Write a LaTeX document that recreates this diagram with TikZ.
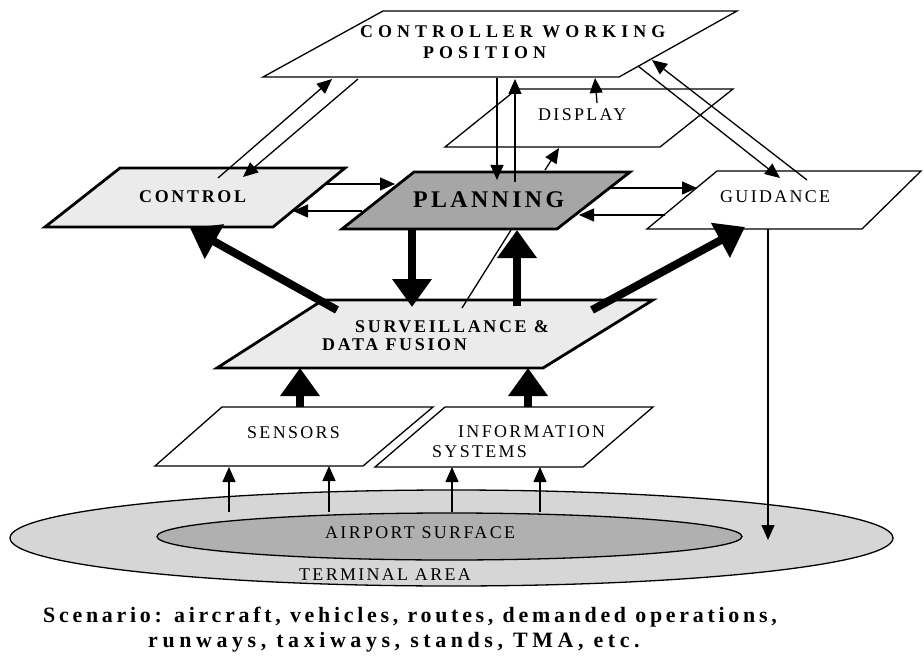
\documentclass[tikz,border=0pt]{standalone}
\usepackage{fontspec}
\setmainfont{Liberation Serif}
\usetikzlibrary{arrows.meta,shapes.geometric}
\definecolor{lightfill}{RGB}{235,235,235}
\definecolor{darkfill}{RGB}{166,166,166}
\definecolor{outerfill}{RGB}{214,214,214}
\definecolor{innerfill}{RGB}{176,176,176}
\newcommand{\regfont}{\fontsize{18}{20}\selectfont\addfontfeature{LetterSpace=13}}
\newcommand{\boldfont}{\fontsize{18}{20}\selectfont\bfseries\addfontfeature{LetterSpace=15}}
\newcommand{\cwpfont}{\fontsize{18}{20}\selectfont\bfseries\addfontfeature{LetterSpace=28}}
\newcommand{\planfont}{\fontsize{24}{26}\selectfont\bfseries\addfontfeature{LetterSpace=14}}
\newcommand{\scenfont}{\fontsize{22}{24}\selectfont\bfseries\addfontfeature{LetterSpace=17}}
\newcommand{\scenfontb}{\fontsize{22}{24}\selectfont\bfseries\addfontfeature{LetterSpace=21}}
\begin{document}
\begin{tikzpicture}[x=1bp,y=-1bp,
  thinbox/.style={draw, line width=1.3bp, line join=miter},
  thickbox/.style={draw, line width=2.8bp, line join=miter},
  thinarrow/.style={line width=1.3bp, -{Triangle[length=15bp,width=13bp]}},
  thickarrow/.style={line width=8bp, -{Triangle[length=28bp,width=38bp]}},
  plainline/.style={line width=1.3bp},
  lbl/.style={inner sep=0pt, anchor=west},
  area/.style={ellipse, draw, line width=1.3bp, inner sep=0pt}]
\useasboundingbox (0,0) rectangle (924,659);
\fill[white] (0,0) rectangle (924,659);
% ground ellipses
\node[area, fill=outerfill, minimum width=883bp, minimum height=96bp] (terminal) at (451.5,538) {};
\node[area, fill=innerfill, minimum width=585bp, minimum height=47bp] (airport) at (449.5,536.5) {};
\node[lbl] (airportlbl) at (325,533) {\regfont AIRPORT SURFACE};
\node[lbl] (terminallbl) at (299,575) {\regfont TERMINAL AREA};
% boxes
\draw[thinbox, fill=white] (263,77) -- (383,11) -- (737,11) -- (619,77) -- cycle;
\draw[thinbox] (445,147) -- (517,89) -- (733,89) -- (660,147) -- cycle;
\draw[thickbox, fill=lightfill] (45,227) -- (120,168) -- (345,168) -- (273,227) -- cycle;
\draw[thickbox, fill=darkfill] (342,229) -- (414,172) -- (630,172) -- (557,229) -- cycle;
\draw[thinbox, fill=white] (647,229) -- (717,171) -- (921,171) -- (862,229) -- cycle;
\draw[thickbox, fill=lightfill] (217,368) -- (323,300) -- (653,300) -- (543,368) -- cycle;
\draw[thinbox, fill=white] (155,466) -- (222,407) -- (433,407) -- (363,466) -- cycle;
\draw[thinbox, fill=white] (375,467) -- (445,407) -- (653,407) -- (583,467) -- cycle;
% labels
\node[lbl] (cwp1) at (360,32) {\cwpfont CONTROLLER WORKING};
\node[lbl] (cwp2) at (423,53) {\cwpfont POSITION};
\node[lbl] (display) at (538,115) {\regfont DISPLAY};
\node[lbl] (control) at (139,197) {\boldfont CONTROL};
\node[lbl] (planning) at (413,200) {\planfont PLANNING};
\node[lbl] (guidance) at (720,197) {\regfont GUIDANCE};
\node[lbl] (surv1) at (355,327) {\boldfont SURVEILLANCE \&};
\node[lbl] (surv2) at (322,345) {\boldfont DATA FUSION};
\node[lbl] (sensors) at (247,433) {\regfont SENSORS};
\node[lbl] (info1) at (458,432) {\regfont INFORMATION};
\node[lbl] (info2) at (432,452) {\regfont SYSTEMS};
\node[inner sep=0pt, anchor=base west] (scen1) at (43,622) {\scenfont Scenario: aircraft, vehicles, routes, demanded operations,};
\node[inner sep=0pt, anchor=base west] (scen2) at (148,647) {\scenfontb runways, taxiways, stands, TMA, etc.};
% connector end points
\coordinate (ctlA) at (218,178); \coordinate (cwpA) at (332,79);
\coordinate (cwpB) at (358,79);  \coordinate (ctlB) at (243,177);
\coordinate (cwpC) at (497,78);  \coordinate (plnC) at (497,180);
\coordinate (plnD) at (515,182); \coordinate (cwpD) at (515,79);
\coordinate (dspE) at (597,103); \coordinate (cwpE) at (595,78);
\coordinate (plnF) at (545,170); \coordinate (dspF) at (559,148);
\coordinate (cwpG) at (638,66);  \coordinate (gdG) at (780,178);
\coordinate (gdH) at (807,180);  \coordinate (cwpH) at (652,60);
\coordinate (ctlI) at (327,184); \coordinate (plnI) at (395,184);
\coordinate (plnJ) at (362,211); \coordinate (ctlJ) at (293,211);
\coordinate (plnK) at (610,188); \coordinate (gdK) at (697,188);
\coordinate (gdL) at (665,215);  \coordinate (plnL) at (579,215);
\coordinate (svM) at (337,310);  \coordinate (ctlM) at (190,228);
\coordinate (plnN) at (412,229); \coordinate (svN) at (412,307);
\coordinate (svO) at (517,306);  \coordinate (plnO) at (517,230);
\coordinate (svP) at (592,310);  \coordinate (gdP) at (745,227);
\coordinate (svQ) at (462,308);  \coordinate (plnQ) at (511,230);
\coordinate (snR) at (300,407);  \coordinate (svR) at (300,368);
\coordinate (isS) at (528,407);  \coordinate (svS) at (528,368);
\coordinate (g1) at (229,512); \coordinate (sn1) at (229,467);
\coordinate (g2) at (329,512); \coordinate (sn2) at (329,466);
\coordinate (g3) at (452,512); \coordinate (is1) at (452,467);
\coordinate (g4) at (540,512); \coordinate (is2) at (540,467);
\coordinate (gdT) at (768,229);  \coordinate (gT) at (768,540);
% thin connectors
\draw[thinarrow] (ctlA) -- (cwpA);
\draw[thinarrow] (cwpB) -- (ctlB);
\draw[thinarrow] (cwpC) -- (plnC);
\draw[thinarrow] (plnD) -- (cwpD);
\draw[thinarrow] (dspE) -- (cwpE);
\draw[thinarrow] (plnF) -- (dspF);
\draw[thinarrow] (cwpG) -- (gdG);
\draw[thinarrow] (gdH) -- (cwpH);
\draw[thinarrow] (ctlI) -- (plnI);
\draw[thinarrow] (plnJ) -- (ctlJ);
\draw[thinarrow] (plnK) -- (gdK);
\draw[thinarrow] (gdL) -- (plnL);
\draw[plainline] (svQ) -- (plnQ);
\draw[thinarrow] (g1) -- (sn1);
\draw[thinarrow] (g2) -- (sn2);
\draw[thinarrow] (g3) -- (is1);
\draw[thinarrow] (g4) -- (is2);
\draw[thinarrow] (gdT) -- (gT);
% thick connectors
\draw[thickarrow] (svM) -- (ctlM);
\draw[thickarrow] (plnN) -- (svN);
\draw[thickarrow] (svO) -- (plnO);
\draw[thickarrow] (svP) -- (gdP);
\draw[thickarrow] (snR) -- (svR);
\draw[thickarrow] (isS) -- (svS);
\end{tikzpicture}
\end{document}
